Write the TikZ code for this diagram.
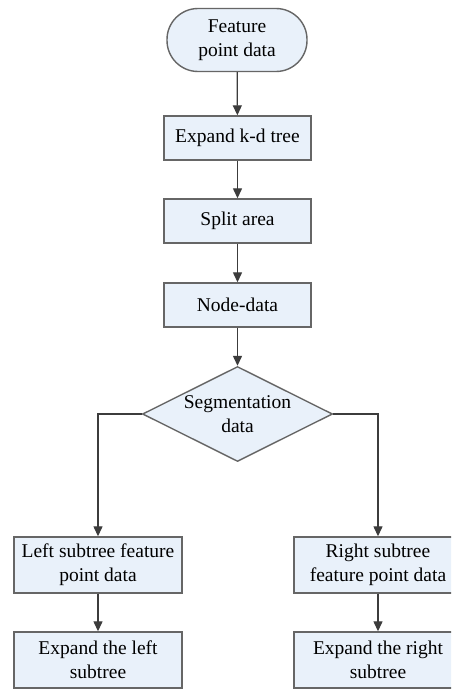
\documentclass[tikz,border=0pt]{standalone}
\usepackage{fontspec}
\setmainfont{Liberation Serif}
\usetikzlibrary{arrows.meta,shapes.geometric}
\definecolor{boxfill}{HTML}{E9F1FA}
\definecolor{edgegray}{HTML}{666666}
\definecolor{arrowgray}{HTML}{3C3C3C}

\begin{document}
\begin{tikzpicture}[x=1pt,y=-1pt,
    every node/.style={font=\fontsize{19.5}{24}\selectfont},
    block/.style={draw=edgegray,fill=boxfill,line width=1.4pt,
      minimum width=147pt,minimum height=44pt,align=center,inner sep=2pt},
    wideblock/.style={block,minimum width=168pt,minimum height=56pt},
    term/.style={block,minimum width=140pt,minimum height=63pt,rounded corners=31pt},
    decision/.style={diamond,draw=edgegray,fill=boxfill,line width=1.4pt,
      aspect=2,inner sep=1pt,minimum width=190pt,minimum height=95pt,align=center},
    arr/.style={draw=arrowgray,line width=1.3pt,-{Triangle[length=10pt,width=9pt]}}]
    \useasboundingbox (0,0) rectangle (451,693);
    \clip (0,0) rectangle (451,693);
    \fill[white] (0,0) rectangle (451,693);
    % main column
    \node[term] (start) at (237,40) {Feature\\point data};
    \node[block] (kdtree) at (237.5,138) {Expand k-d tree};
    \node[block] (split) at (237.5,221) {Split area};
    \node[block] (nodedata) at (237.5,305) {Node-data};
    \node[decision] (seg) at (237.5,414) {Segmentation\\data};
    % two branches
    \node[wideblock] (leftdata) at (98,565) {Left subtree feature\\point data};
    \node[wideblock] (leftexp) at (98,660) {Expand the left\\subtree};
    \node[wideblock] (rightdata) at (378,565) {Right subtree\\feature point data};
    \node[wideblock] (rightexp) at (378,660) {Expand the right\\subtree};
    \draw[arr] (start) -- (kdtree);
    \draw[arr] (kdtree) -- (split);
    \draw[arr] (split) -- (nodedata);
    \draw[arr] (nodedata) -- (seg);
    \draw[arr] (seg.west) -| (leftdata);
    \draw[arr] (seg.east) -| (rightdata);
    \draw[arr] (leftdata) -- (leftexp);
    \draw[arr] (rightdata) -- (rightexp);
\end{tikzpicture}
\end{document}
